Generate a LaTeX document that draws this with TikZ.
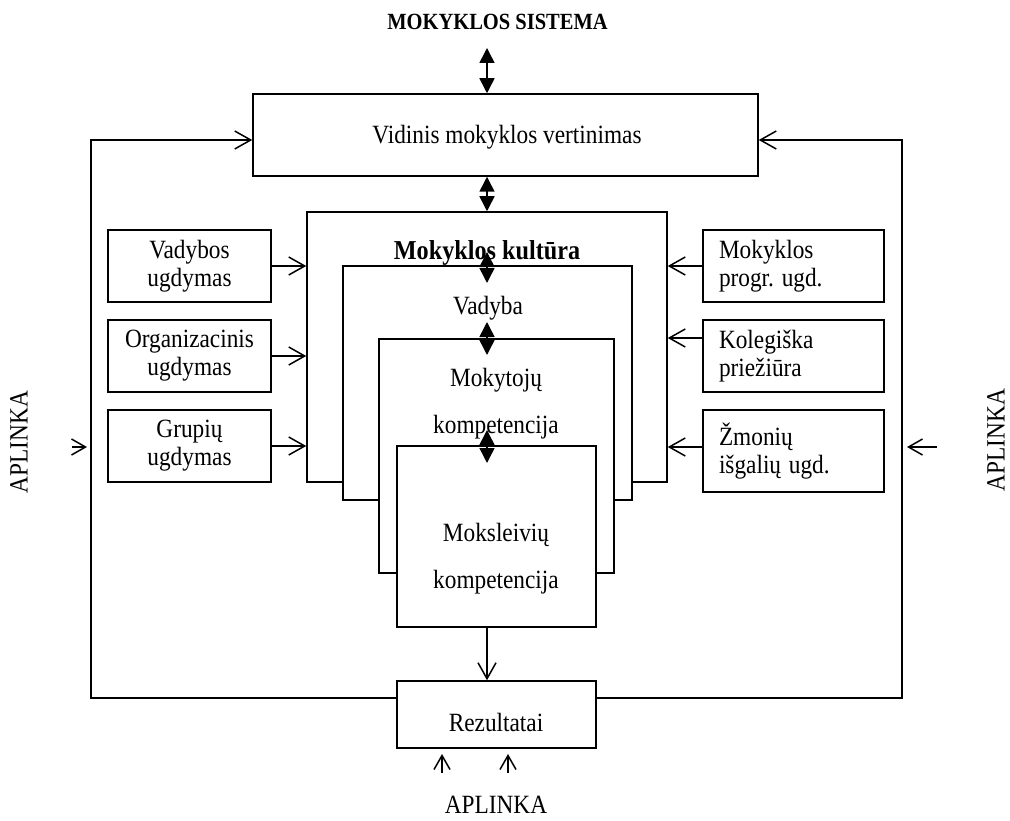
\documentclass[tikz,border=0pt]{standalone}
\usepackage{graphicx}
\usepackage{fontspec}
\setmainfont{Liberation Serif}
\usetikzlibrary{arrows.meta}
\newcommand\vst[1]{\scalebox{1}[1.13]{#1}}
\tikzset{
  box/.style={draw, line width=1.5pt, fill=white, inner sep=0pt},
  txt/.style={inner sep=0pt, font=\fontsize{23.3}{28}\selectfont},
  dbl/.style={line width=1.5pt, {Triangle[width=15pt,length=15pt]}-{Triangle[width=15pt,length=15pt]}},
  barb/.style={line width=1.5pt, -{Straight Barb[length=16pt,width=18pt,line width=1.5pt]}},
  sbarb/.style={line width=1.5pt, -{Straight Barb[length=14pt,width=16pt,line width=1.5pt]}},
}
\begin{document}
\frenchspacing
\begin{tikzpicture}[x=1pt,y=-1pt]
\useasboundingbox (0,0) rectangle (1010,821);
% top
\node[txt, font=\fontsize{20.5}{24}\selectfont\bfseries] (sys) at (497.5,22) {\vst{MOKYKLOS SISTEMA}};
\node[box, minimum width=505pt, minimum height=82pt] (vid) at (505.5,135) {};
\node[txt] (vidt) at (507,137) {\vst{Vidinis mokyklos vertinimas}};
% nested boxes
\node[box, minimum width=360pt, minimum height=270pt] (kult) at (487,347) {};
\node[box, minimum width=289pt, minimum height=234pt] (vad) at (487.5,383) {};
\node[box, minimum width=235pt, minimum height=234pt] (mkt) at (496.5,456) {};
\node[box, minimum width=199pt, minimum height=181pt] (msk) at (496.5,536.5) {};
\node[txt, font=\fontsize{24.2}{28}\selectfont\bfseries] (kultt) at (487,253) {\vst{Mokyklos kultūra}};
\node[txt] (vadt) at (488,308) {\vst{Vadyba}};
\node[txt, align=center, font=\fontsize{23.3}{47}\selectfont] (mktt) at (496,403.5) {\vst{Mokytojų}\\\vst{kompetencija}};
\node[txt, align=center, font=\fontsize{23.3}{47}\selectfont] (mskt) at (496,558.5) {\vst{Moksleivių}\\\vst{kompetencija}};
% results
\node[box, minimum width=199pt, minimum height=67pt] (rez) at (496.5,714.5) {};
\node[txt] (rezt) at (496,722) {\vst{Rezultatai}};
% left boxes
\node[box, txt, draw, fill=white, minimum width=163pt, minimum height=72pt, align=center] (lb1) at (189.5,266) {\vst{Vadybos}\\\vst{ugdymas}};
\node[box, txt, draw, fill=white, minimum width=163pt, minimum height=72pt, align=center] (lb2) at (189.5,356) {\vst{Organizacinis}\\\vst{ugdymas}};
\node[box, txt, draw, fill=white, minimum width=163pt, minimum height=72pt, align=center] (lb3) at (189.5,446) {\vst{Grupių}\\\vst{ugdymas}};
% right boxes
\node[box, txt, draw, fill=white, text width=149pt, inner xsep=16pt, minimum height=72pt, align=left] (rb1) at (793.5,266) {\vst{Mokyklos}\\\vst{progr. ugd.}};
\node[box, txt, draw, fill=white, text width=149pt, inner xsep=16pt, minimum height=72pt, align=left] (rb2) at (793.5,356) {\vst{Kolegiška}\\\vst{priežiūra}};
\node[box, txt, draw, fill=white, text width=149pt, inner xsep=16pt, minimum height=82pt, align=left] (rb3) at (793.5,451) {\vst{Žmonių}\\\vst{išgalių ugd.}};
% APLINKA labels
\node[txt, rotate=90] (apl) at (19,442) {\vst{APLINKA}};
\node[txt, rotate=90] (apr) at (996,440) {\vst{APLINKA}};
\node[txt] (apb) at (496,805) {\vst{APLINKA}};
% coordinates
\coordinate (s1) at (487,48);
\coordinate (s3a) at (487,252);
\coordinate (s3b) at (487,283);
\coordinate (s4a) at (487,322);
\coordinate (s4b) at (487,355);
\coordinate (s5a) at (487,430);
\coordinate (s5b) at (487,463);
\coordinate (lb) at (91,698);
\coordinate (lt) at (91,140);
\coordinate (rbq) at (902,698);
\coordinate (rtq) at (902,140);
\coordinate (r2y) at (0,338);
\coordinate (la1) at (72,447);
\coordinate (la2) at (87,447);
\coordinate (ra1) at (937,447);
\coordinate (ra2) at (907,447);
\coordinate (ba1) at (442,773);
\coordinate (ba2) at (442,754);
\coordinate (bb1) at (508,773);
\coordinate (bb2) at (508,754);
% double arrows
\draw[dbl] (s1) -- (s1 |- vid.north);
\draw[dbl] (s1 |- vid.south) -- (s1 |- kult.north);
\draw[dbl] (s3a) -- (s3b);
\draw[dbl] (s4a) -- (s4b);
\draw[dbl] (s5a) -- (s5b);
% down arrow
\draw[barb] (s1 |- msk.south) -- (s1 |- rez.north);
% feedback loops
\draw[barb] (lb -| rez.west) -- (lb) -- (lt) -- (lt -| vid.west);
\draw[barb] (rbq -| rez.east) -- (rbq) -- (rtq) -- (rtq -| vid.east);
% inputs
\draw[barb] (lb1.east) -- (lb1.east -| kult.west);
\draw[barb] (lb2.east) -- (lb2.east -| kult.west);
\draw[barb] (lb3.east) -- (lb3.east -| kult.west);
\draw[barb] (rb1.west) -- (rb1.west -| kult.east);
\draw[barb] (rb2.west |- r2y) -- (kult.east |- r2y);
\draw[barb] (rb3.west |- la1) -- (kult.east |- la1);
% environment arrows
\draw[sbarb] (la1) -- (la2);
\draw[sbarb] (ra1) -- (ra2);
\draw[sbarb] (ba1) -- (ba2);
\draw[sbarb] (bb1) -- (bb2);
\end{tikzpicture}
\end{document}
